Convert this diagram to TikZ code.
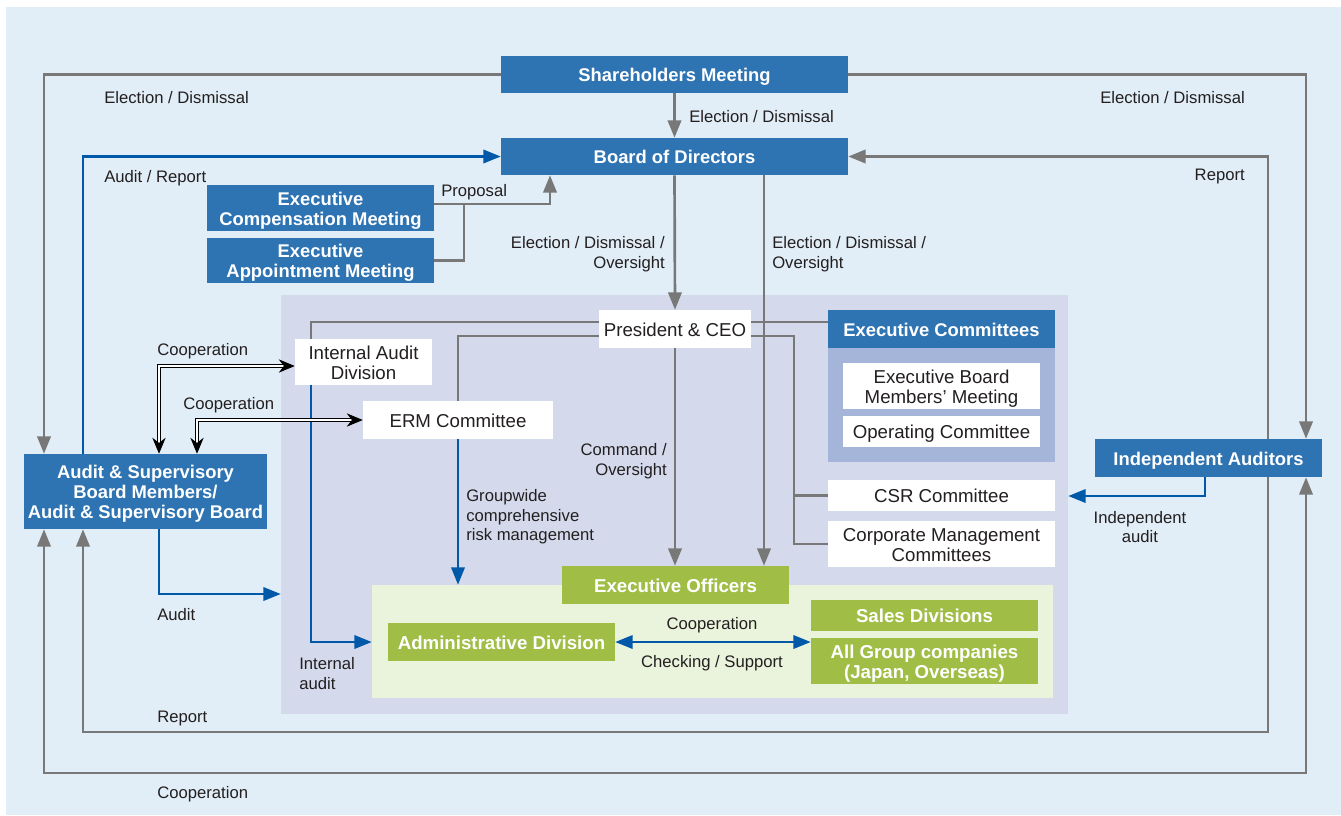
\documentclass[tikz,border=0pt]{standalone}
\usepackage{fontspec}
\setmainfont{Liberation Sans}
\usetikzlibrary{
  arrows.meta
}

\definecolor{bgblue}{HTML}{E1EEF7}
\definecolor{lavpanel}{HTML}{D4DAEC}
\definecolor{excbody}{HTML}{A5B5D9}
\definecolor{boxblue}{HTML}{2E73B2}
\definecolor{boxgreen}{HTML}{A0BD45}
\definecolor{limepanel}{HTML}{EAF3DB}
\definecolor{linegray}{HTML}{787878}
\definecolor{lineblue}{HTML}{0059A8}
\definecolor{txt}{HTML}{231F20}

\tikzset{
  rows/.style={execute at begin node=\rule{0pt}{#1}},
  wh/.style 2 args={minimum width=#1*0.75pt, minimum height=#2*0.75pt,
    inner sep=0pt, align=center, rows=14pt,
    execute at end node=\rule[-3pt]{0pt}{3pt}},
  bluebox/.style={fill=boxblue, text=white,
    font=\bfseries\fontsize{13.8}{15}\selectfont},
  whitebox/.style={fill=white, text=txt,
    font=\fontsize{14}{15}\selectfont},
  greenbox/.style={fill=boxgreen, text=white,
    font=\bfseries\fontsize{14}{15}\selectfont},
  lbl/.style={inner sep=0pt, text=txt,
    font=\fontsize{12.5}{14.3}\selectfont, rows=12pt,
    execute at end node=\rule[-3pt]{0pt}{3pt}},
  gline/.style={draw=linegray, line width=2pt},
  bline/.style={draw=lineblue, line width=1.8pt},
  dline/.style={draw=black, line width=0.75pt, double=white,
    double distance=1.6pt, >={Stealth[length=12pt,width=10pt]}}
}

\begin{document}
\begin{tikzpicture}[x=0.75pt,y=-0.75pt,>={Triangle[length=13pt,width=10pt]}]

\useasboundingbox (0,0) rectangle (1341,815);
\fill[bgblue] (6,7) rectangle (1341,815);

%--------------------
% panels
%--------------------
\node[fill=lavpanel, minimum width=787*0.75pt, minimum height=419*0.75pt]
  (lav) at (674.5,504.5) {};
\node[fill=limepanel, minimum width=681*0.75pt, minimum height=113*0.75pt]
  (lime) at (712.5,641.5) {};
\node[fill=excbody, minimum width=227*0.75pt, minimum height=114*0.75pt]
  (excb) at (941.5,405) {};

%--------------------
% boxes
%--------------------
\node[bluebox, wh={347}{37}] (sh) at (674.5,74.5) {Shareholders Meeting};
\node[bluebox, wh={347}{37}] (bod) at (674.5,156.5) {Board of Directors};
\node[bluebox, wh={227}{46}, rows=29pt] (ecm) at (320.5,208)
  {Executive\\Compensation Meeting};
\node[bluebox, wh={227}{45}, rows=29pt] (eam) at (320.5,260.5)
  {Executive\\Appointment Meeting};
\node[bluebox, wh={243}{75}, rows=44pt] (asb) at (145.5,491.5)
  {Audit \& Supervisory\\Board Members/\\Audit \& Supervisory Board};
\node[bluebox, wh={227}{38}] (ia) at (1208.5,458) {Independent Auditors};
\node[bluebox, wh={227}{38}] (exch) at (941.5,329) {Executive Committees};

\node[whitebox, wh={152}{38}] (pres) at (675,329) {President \& CEO};
\node[whitebox, wh={137}{46}, rows=29pt] (iad) at (363.5,362)
  {Internal Audit\\Division};
\node[whitebox, wh={190}{38}] (erm) at (458,420) {ERM Committee};
\node[whitebox, wh={197}{46}, rows=29pt] (ebm) at (941.5,386)
  {Executive Board\\Members’ Meeting};
\node[whitebox, wh={197}{31}] (opc) at (941.5,431.5) {Operating Committee};
\node[whitebox, wh={227}{31}] (csr) at (941.5,495.5) {CSR Committee};
\node[whitebox, wh={227}{46}, rows=29pt] (cmc) at (941.5,544)
  {Corporate Management\\Committees};

\node[greenbox, wh={227}{38}] (eo) at (675.5,585) {Executive Officers};
\node[greenbox, wh={227}{38}] (adm) at (501.5,642) {Administrative Division};
\node[greenbox, wh={227}{31}] (sales) at (924.5,615.5) {Sales Divisions};
\node[greenbox, wh={227}{46}, rows=29pt] (agc) at (924.5,661)
  {All Group companies\\(Japan, Overseas)};

%--------------------
% line positions
%--------------------
\coordinate (xA) at (44,0);
\coordinate (xB) at (83,0);
\coordinate (xC) at (1306,0);
\coordinate (xD) at (1268,0);
\coordinate (xE) at (764,0);
\coordinate (xF) at (311,0);
\coordinate (xG) at (794,0);
\coordinate (xH) at (159,0);
\coordinate (xI) at (1205,0);
\coordinate (xJ) at (197,0);
\coordinate (xP) at (550,0);
\coordinate (xQ) at (464,0);
\coordinate (yP) at (0,322);
\coordinate (yQ) at (0,336);
\coordinate (yR) at (0,732);
\coordinate (yC) at (0,773);
\coordinate (yA) at (0,594);
\coordinate (yI) at (0,496);

%--------------------
% connectors
%--------------------
% outer loops
\draw[gline,->] (sh.west) -| (asb.north -| xA);
\draw[gline,->] (sh.east) -| (ia.north -| xC);
\draw[gline,->] (sh.south) -- (bod.north);
\draw[bline,->] (asb.north -| xB) |- (bod.west);
\draw[gline,->] (ia.north -| xD) |- (bod.east);
\draw[gline,->] (ia.south -| xD) |- (yR -| xB) -- (asb.south -| xB);
\draw[gline,<->] (ia.south -| xC) |- (yC -| xA) -- (asb.south -| xA);

% proposal
\draw[gline,->] ([yshift=3pt]ecm.east) -| (bod.south -| xP);
\draw[gline] (eam.east) -| ([yshift=3pt]ecm.east -| xQ);

% board down
\draw[gline,->] (bod.south) -- (pres.north);
\draw[gline,->] (bod.south -| xE) -- (eo.north -| xE);

% president
\draw[gline] (pres.west |- yP) -| (iad.north -| xF);
\draw[gline] (pres.east |- yP) -- (exch.west |- yP);
\draw[gline] (pres.west |- yQ) -| (erm.north);
\draw[gline] (pres.east |- yQ) -| (xG |- cmc.west) -- (cmc.west);
\draw[gline] (xG |- csr.west) -- (csr.west);
\draw[gline,->] (pres.south) -- (pres.south |- eo.north);

% audits
\draw[bline,->] (erm.south) -- (erm.south |- lime.north);
\draw[bline,->] (iad.south -| xF) |- (lime.west |- adm.west);
\draw[bline,->] (asb.south -| xH) |- (lav.west |- yA);
\draw[bline,->] (ia.south -| xI) |- (lav.east |- yI);
\draw[bline,<->] (adm.east) -- (adm.east -| agc.west);

% cooperation
\draw[dline,<->] (asb.north -| xH) |- ([yshift=-3pt]iad.west);
\draw[dline,<->] (asb.north -| xJ) |- (erm.west);

%--------------------
% labels
%--------------------
\node[lbl, anchor=west] (l1) at (104,97) {Election / Dismissal};
\node[lbl, anchor=east] (l2) at (1245,97) {Election / Dismissal};
\node[lbl, anchor=west] (l3) at (689,116) {Election / Dismissal};
\node[lbl, anchor=west] (l4) at (104,176) {Audit / Report};
\node[lbl, anchor=east] (l5) at (1245,174) {Report};
\node[lbl, anchor=west] (l6) at (441,190) {Proposal};
\node[lbl, anchor=east, align=right, rows=26.3pt] (l7) at (665,252.5)
  {Election / Dismissal /\\Oversight};
\node[lbl, anchor=west, align=left, rows=26.3pt] (l8) at (772,252.5)
  {Election / Dismissal /\\Oversight};
\node[lbl, anchor=west] (l9) at (157,349) {Cooperation};
\node[lbl, anchor=west] (l10) at (183,403) {Cooperation};
\node[lbl, anchor=east, align=right, rows=26.3pt] (l11) at (667,459.5)
  {Command /\\Oversight};
\node[lbl, anchor=west, align=left, rows=40.6pt] (l12) at (466,515)
  {Groupwide\\comprehensive\\risk management};
\node[lbl, align=center, rows=26.3pt] (l13) at (1140,527)
  {Independent\\audit};
\node[lbl, anchor=west] (l14) at (157,614) {Audit};
\node[lbl, anchor=west, align=left, rows=26.3pt] (l15) at (299,673.5)
  {Internal\\audit};
\node[lbl, anchor=west] (l16) at (157,716) {Report};
\node[lbl, anchor=west] (l17) at (157,792) {Cooperation};
\node[lbl] (l18) at (712,623) {Cooperation};
\node[lbl] (l19) at (712,661) {Checking / Support};

\end{tikzpicture}
\end{document}
